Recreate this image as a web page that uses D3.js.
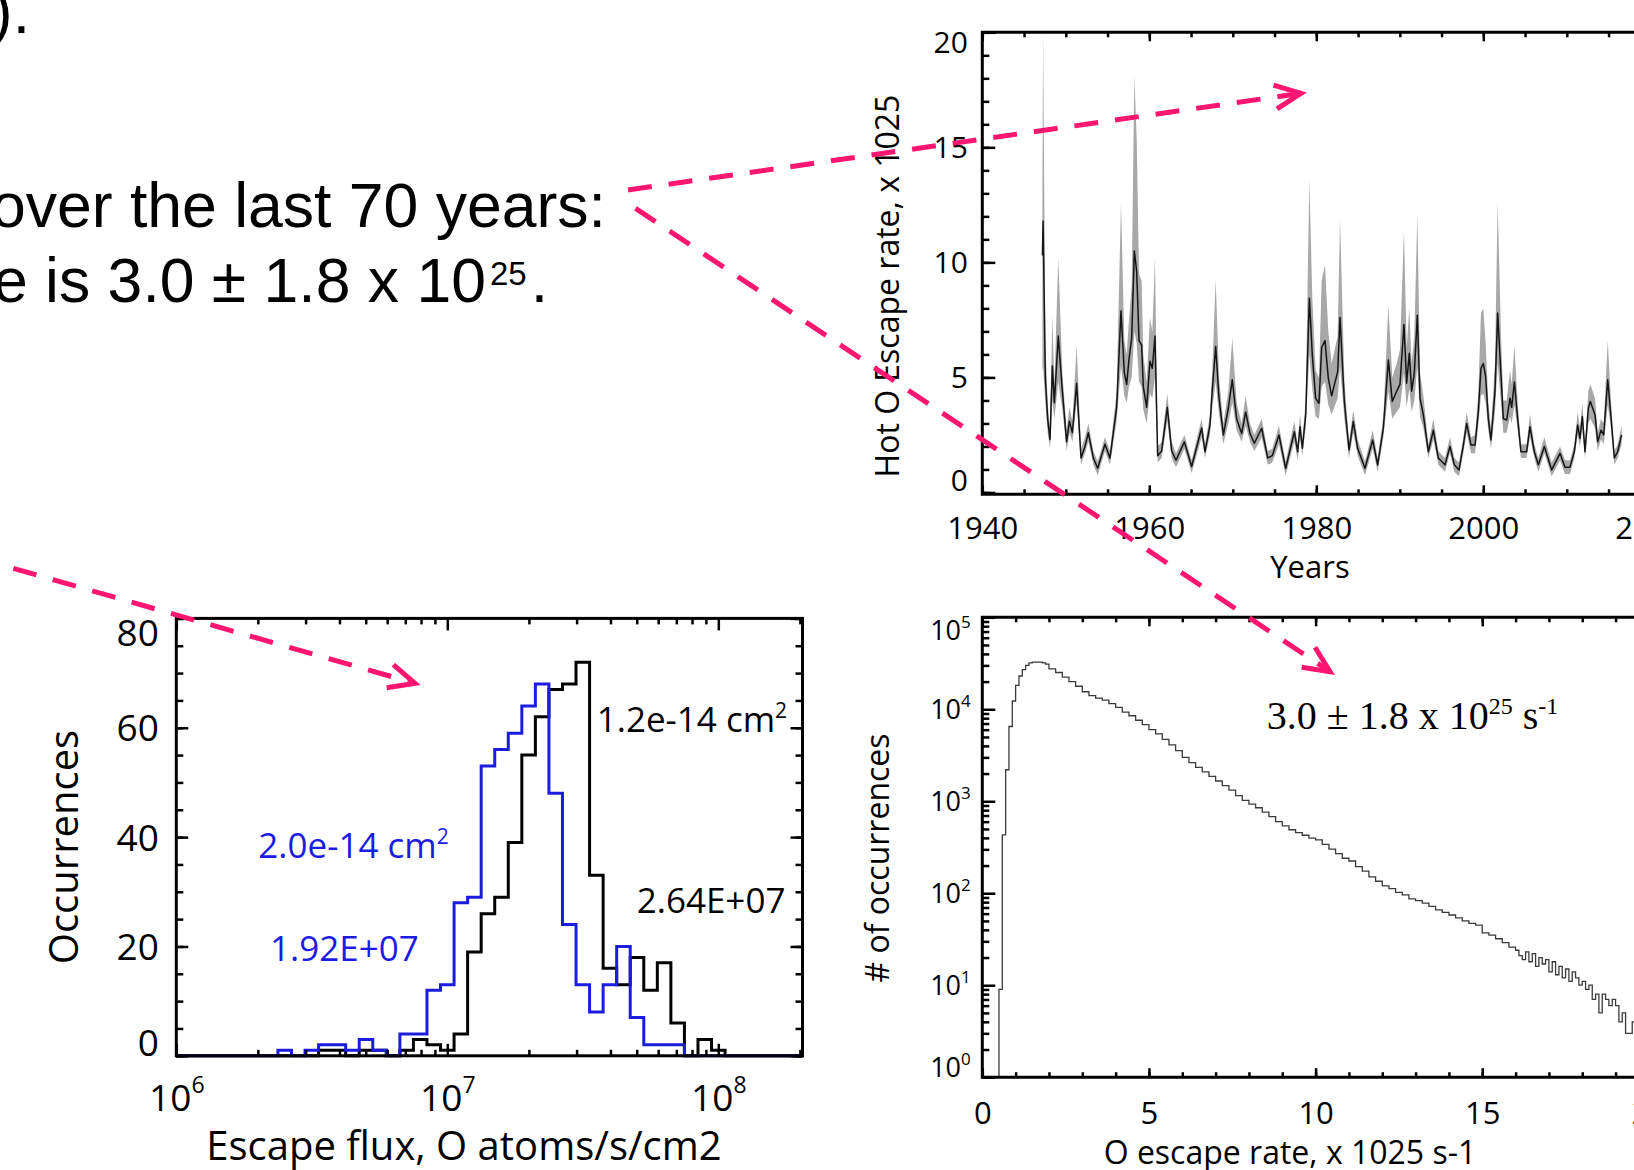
<!DOCTYPE html>
<html>
<head>
<meta charset="utf-8">
<script src="https://cdn.jsdelivr.net/npm/d3@7"></script>
<style>
  body { margin: 0; background: #fff; }
  svg { display: block; }
</style>
</head>
<body>
<script>
// ---------- data ----------
// hot O escape rate over the years (x 1e25 /s): mean line and grey band
var escYear = [1947.20,1947.28,1947.55,1947.83,1948.11,1948.39,1948.63,1949.10,1949.59,1950.10,1950.43,1950.79,1951.30,1951.82,1952.30,1952.70,1953.30,1953.82,1954.69,1955.29,
  1956.09,1956.61,1957.01,1957.29,1957.57,1957.89,1958.21,1958.49,1958.77,1959.08,1959.28,1959.68,1960.08,1960.36,1960.68,1961.00,1961.48,1962.16,1962.68,1963.20,
  1964.20,1965.07,1966.27,1966.67,1967.27,1967.55,1967.95,1968.35,1968.87,1969.46,1969.94,1970.46,1971.06,1971.54,1972.06,1972.58,1973.46,1974.18,1974.73,1975.53,
  1976.33,1977.37,1977.77,1978.05,1978.33,1978.73,1979.17,1979.52,1979.92,1980.32,1980.64,1981.04,1981.44,1981.84,1982.56,1982.84,1983.36,1983.92,1984.43,1984.95,
  1985.83,1986.75,1987.35,1988.03,1988.63,1989.10,1989.62,1990.02,1990.50,1990.82,1991.14,1991.42,1991.74,1992.10,1992.42,1992.82,1993.42,1994.02,1994.61,1995.41,
  1996.01,1996.53,1997.09,1997.61,1998.01,1998.53,1999.01,1999.40,1999.72,2000.00,2000.28,2000.60,2000.92,2001.40,2001.72,2002.12,2002.40,2002.80,2003.20,2003.40,
  2003.72,2004.12,2004.51,2005.19,2005.59,2006.11,2006.59,2007.31,2008.19,2009.19,2009.78,2010.38,2010.90,2011.30,2011.58,2011.86,2012.18,2012.58,2012.82,2013.38,
  2013.70,2014.10,2014.42,2014.90,2015.29,2015.69,2016.09,2016.57];
var escMean = [10.3,11.8,5.0,3.2,2.3,5.5,3.9,6.8,4.4,2.2,3.1,2.6,4.75,1.5,2.0,2.6,1.5,1.05,2.1,1.5,
  3.7,7.9,5.2,4.7,5.8,6.7,10.5,9.6,6.6,6.4,4.6,3.7,5.7,5.4,6.8,1.6,1.8,3.7,1.8,1.4,
  2.2,1.13,2.8,1.77,2.93,4.5,6.34,4.1,2.5,3.66,4.9,3.2,2.56,3.5,2.56,2.14,2.79,1.5,1.6,2.5,
  1.05,2.64,1.77,2.86,1.92,3.37,8.44,5.98,4.1,3.87,6.3,6.6,4.96,4.2,5.25,7.6,3.95,1.85,3.08,1.92,
  1.05,2.28,1.2,2.8,5.76,3.95,4.4,4.7,7.3,4.75,6.05,4.4,5.2,7.7,4.1,3.37,1.77,2.71,1.5,1.2,
  2.0,1.2,0.98,2.06,3.0,2.06,2.06,3.5,5.4,5.6,5.04,3.2,2.28,4.4,7.8,5.1,3.2,3.15,4.1,3.7,
  4.8,3.2,1.77,1.77,2.86,1.77,1.2,2.0,0.98,1.7,1.1,1.1,1.77,2.93,2.35,3.3,1.77,3.66,3.95,3.37,
  2.2,2.71,2.5,4.9,3.3,1.5,1.77,2.5];
var escLow = [5.2,5.5,3.9,2.6,1.9,4.0,3.2,4.8,3.6,1.8,2.6,2.2,3.9,1.2,1.7,2.2,1.2,0.75,1.8,1.2,
  3.1,5.5,4.2,3.9,4.6,5.0,7.0,6.5,4.8,4.6,3.6,3.0,4.3,4.1,5.0,1.3,1.5,3.1,1.5,1.1,
  1.9,0.85,2.4,1.5,2.5,3.7,4.8,3.4,2.1,3.0,3.9,2.7,2.2,2.9,2.2,1.8,2.4,1.2,1.3,2.1,
  0.75,2.2,1.4,2.4,1.6,2.8,6.0,4.5,3.3,3.2,4.6,4.8,3.8,3.4,4.1,5.5,3.2,1.5,2.6,1.6,
  0.75,1.9,0.9,2.4,4.4,3.2,3.5,3.7,5.2,3.7,4.5,3.5,4.0,5.5,3.3,2.8,1.5,2.3,1.2,0.9,
  1.7,0.9,0.7,1.7,2.6,1.7,1.7,2.9,4.2,4.3,3.9,2.7,1.9,3.5,5.6,3.9,2.6,2.6,3.3,3.0,
  3.8,2.7,1.5,1.5,2.4,1.5,0.9,1.7,0.7,1.4,0.8,0.8,1.5,2.5,2.0,2.8,1.5,3.0,3.2,2.8,
  1.8,2.3,2.1,3.8,2.8,1.2,1.5,2.1];
var escHigh = [13.0,20.0,6.6,3.9,2.7,7.7,4.7,10.2,5.2,2.7,3.7,3.1,6.4,1.9,2.4,3.0,1.8,1.35,2.4,1.8,
  4.4,12.6,6.6,6.0,7.5,9.0,18.1,15.4,9.5,9.2,6.0,4.8,7.6,7.0,10.2,2.0,2.2,4.3,2.2,1.7,
  2.5,1.4,3.2,2.1,3.4,5.4,9.24,5.0,3.0,4.4,6.7,3.9,3.0,4.2,3.0,2.5,3.2,1.8,1.9,2.9,
  1.35,3.1,2.1,3.4,2.3,4.0,13.6,8.5,5.3,5.0,9.2,9.9,7.0,5.6,6.8,11.9,4.9,2.2,3.6,2.3,
  1.35,2.7,1.5,3.3,8.15,5.0,5.6,6.2,11.4,6.3,8.0,5.6,6.8,12.1,5.2,4.2,2.1,3.2,1.8,1.5,
  2.4,1.5,1.3,2.4,3.5,2.4,2.5,4.3,7.8,8.0,6.5,3.9,2.8,5.6,12.6,6.8,4.0,4.0,5.3,4.7,
  6.4,3.9,2.1,2.1,3.4,2.1,1.5,2.4,1.3,2.0,1.4,1.4,2.1,3.5,2.8,3.9,2.1,4.4,4.7,4.1,
  2.6,3.2,3.0,6.6,4.0,1.8,2.1,2.9];

// escape flux histograms: log10 of bin lower edge (0.05 dex bins)
var fluxBinLog = [6.325,6.375,6.425,6.475,6.525,6.575,6.625,6.675,6.725,6.775,6.825,6.875,6.925,6.975,7.025,7.075,7.125,7.175,
  7.225,7.275,7.325,7.375,7.425,7.475,7.525,7.575,7.625,7.675,7.725,7.775,7.825,7.875,7.925,7.975,8.025];
var fluxBinTop = 8.075;
var fluxBlack = [0,0,0,0,1,1,0,1,1,0,1,3,2,1,4,19,26,29,39,55,62,67,68,72,33,16,13,18,12,17,6,0,3,1,0];
var fluxBlue = [0,1,0,1,2,2,1,3,1,0,4,4,12,13,28,29,53,56,59,64,68,48,24,13,8,13,20,7,2,2,2,0,0,0,0];

// O escape rate histogram (x 1e25 /s), bin lower edges and counts
var rateBinLo = [0.5,0.6,0.7,0.8,0.9,1.0,1.1,1.2,1.3,1.4,1.5,1.6,1.7,1.8,1.9,
  2.0,2.2,2.4,2.6,2.8,3.0,3.2,3.4,3.6,3.8,4.0,4.2,4.4,4.6,4.8,5.0,5.2,5.4,5.6,5.8,
  6.0,6.2,6.4,6.6,6.8,7.0,7.2,7.4,7.6,7.8,8.0,8.2,8.4,8.6,8.8,9.0,9.2,9.4,9.6,9.8,
  10.0,10.2,10.4,10.6,10.8,11.0,11.2,11.4,11.6,11.8,12.0,12.2,12.4,12.6,12.8,13.0,13.2,13.4,13.6,13.8,
  14.0,14.2,14.4,14.6,14.8,15.0,15.2,15.4,15.6,15.8,
  16.0,16.1,16.2,16.3,16.4,16.5,16.6,16.7,16.8,16.9,17.0,17.1,17.2,17.3,17.4,17.5,17.6,17.7,17.8,17.9,
  18.0,18.1,18.2,18.3,18.4,18.5,18.6,18.7,18.8,18.9,19.0,19.1,19.2,19.3,19.4,19.5,19.6,19.7,19.8,19.9];
var rateBinTop = 20.0;
var rateCount = [9,430,2200,6500,12300,18200,23000,27000,30000,32000,32500,32500,32500,32000,31000,
  27500,25100,22400,20000,17800,15500,14100,13200,12600,11500,10500,9300,8500,7600,6800,6000,5400,4700,4100,3550,
  3000,2630,2340,2090,1860,1660,1480,1320,1150,1020,930,850,760,680,600,540,490,457,427,398,
  380,339,302,269,240,224,195,174,151,135,120,112,102,96,87,83,78,72,66,62,
  58,54,50,47,45,37,35,32,29,26,
  24,21,19,23,18,22,16,20,17,19,14,18,13,16,12,15,11,14,12,10,
  11,9,10,7,8,5,8,7,6,7,6,4,5,3,3,4,2,3,1,2];

var w = 1634, h = 1170;
var sans = "'Open Sans', 'DejaVu Sans', sans-serif";
var pink = "#ff1670";

var svg = d3.select("body").append("svg").attr("width", w).attr("height", h);

// ticks only, inward, no labels
function ticks(g, axis, vals, size) {
  g.call(axis.tickValues(vals).tickSize(size).tickFormat(function() { return ""; }));
  g.select(".domain").remove();
  g.selectAll(".tick text").remove();
  g.selectAll(".tick line").attr("stroke", "#000").attr("stroke-width", 2.5);
}

// ---------- slide text ----------
var slide = svg.append("g").style("font-family", "'Liberation Sans', Arial, sans-serif").style("font-size", "62.5px");
slide.append("text").attr("x", 30).attr("y", 33).attr("text-anchor", "end").text(").");
slide.append("text").attr("x", -9).attr("y", 227).text("over the last 70 years:");
var l2 = slide.append("text").attr("x", -7).attr("y", 302);
l2.append("tspan").text("e is 3.0 \u00b1 1.8 x 10");
l2.append("tspan").attr("dx", 4).attr("dy", -17).style("font-size", "33px").text("25");
l2.append("tspan").attr("dx", 4).attr("dy", 17).text(".");

// ---------- top chart: escape rate vs years ----------
var xT = d3.scaleLinear().domain([1940, 2020]).range([982.3, 1650.3]);
var yT = d3.scaleLinear().domain([-0.08, 20]).range([494.3, 32.3]);
var escData = escYear.map(function(d, i) { return {yr: d, m: escMean[i], lo: escLow[i], hi: escHigh[i]}; });

svg.append("path").datum(escData)
  .attr("d", d3.area().x(function(d) { return xT(d.yr); }).y0(function(d) { return yT(d.lo); }).y1(function(d) { return yT(d.hi); }))
  .attr("fill", "#a8a8a8");
svg.append("path").datum(escData)
  .attr("d", d3.line().x(function(d) { return xT(d.yr); }).y(function(d) { return yT(d.m); }))
  .attr("fill", "none").attr("stroke", "#151515").attr("stroke-width", 1.5).attr("stroke-linejoin", "round");

ticks(svg.append("g").attr("transform", "translate(0," + yT.range()[0] + ")"), d3.axisBottom(xT), d3.range(1940, 2021, 5), -5);
ticks(svg.append("g").attr("transform", "translate(0," + yT.range()[0] + ")"), d3.axisBottom(xT), [1940, 1960, 1980, 2000, 2020], -9);
ticks(svg.append("g").attr("transform", "translate(0," + yT.range()[1] + ")"), d3.axisTop(xT), d3.range(1940, 2021, 5), -5);
ticks(svg.append("g").attr("transform", "translate(0," + yT.range()[1] + ")"), d3.axisTop(xT), [1940, 1960, 1980, 2000, 2020], -9);
ticks(svg.append("g").attr("transform", "translate(" + xT.range()[0] + ",0)"), d3.axisLeft(yT), d3.range(0, 21, 1), -7);
ticks(svg.append("g").attr("transform", "translate(" + xT.range()[0] + ",0)"), d3.axisLeft(yT), [0, 5, 10, 15, 20], -13);

svg.append("path")
  .attr("d", "M" + xT.range()[1] + "," + yT.range()[1] + "H" + xT.range()[0] + "V" + yT.range()[0] + "H" + xT.range()[1])
  .attr("fill", "none").attr("stroke", "#000").attr("stroke-width", 3);

var txl = svg.append("g").attr("transform", "translate(0," + yT.range()[0] + ")")
  .call(d3.axisBottom(xT).tickValues([1940, 1960, 1980, 2000, 2020]).tickSize(0).tickFormat(d3.format("d")));
txl.select(".domain").remove();
txl.selectAll("text").attr("y", 44.5).attr("dy", null).style("font-family", sans).style("font-size", "31px").attr("fill", "#000");

var tyl = svg.append("g").attr("transform", "translate(" + xT.range()[0] + ",0)")
  .call(d3.axisLeft(yT).tickValues([0, 5, 10, 15, 20]).tickSize(0).tickPadding(14.5));
tyl.select(".domain").remove();
tyl.selectAll("text").style("font-family", sans).style("font-size", "30px").attr("fill", "#000")
  .attr("dy", function(d) { return d === 20 ? 20.5 : (d === 0 ? -2 : 10.5); });

svg.append("text").attr("x", 1310).attr("y", 578).attr("text-anchor", "middle")
  .style("font-family", sans).style("font-size", "31px").text("Years");
svg.append("text").attr("transform", "translate(899,286) rotate(-90)").attr("text-anchor", "middle")
  .style("font-family", sans).style("font-size", "32px").text("Hot O Escape rate, x 1025");

// ---------- bottom left: escape flux histograms ----------
var xF = d3.scaleLog().domain([1e6, 2.045e8]).range([176.3, 802.5]);
var yF = d3.scaleLinear().domain([0, 80]).range([1055.8, 618.4]);

function fluxSteps(counts) {
  var pts = [[1e6, 0]];
  fluxBinLog.forEach(function(lg, i) { pts.push([Math.pow(10, lg), counts[i]]); });
  pts.push([Math.pow(10, fluxBinTop), 0]);
  pts.push([xF.domain()[1], 0]);
  return pts;
}
var fluxLine = d3.line().curve(d3.curveStepAfter)
  .x(function(d) { return xF(d[0]); }).y(function(d) { return yF(d[1]); });

svg.append("path").datum(fluxSteps(fluxBlack)).attr("d", fluxLine)
  .attr("fill", "none").attr("stroke", "#000").attr("stroke-width", 3);
svg.append("path").datum(fluxSteps(fluxBlue)).attr("d", fluxLine)
  .attr("fill", "none").attr("stroke", "#1c1ce0").attr("stroke-width", 3);

var logMinor = [];
[1e6, 1e7, 1e8].forEach(function(p) { for (var k = 2; k <= 9; k++) { if (p * k <= xF.domain()[1]) logMinor.push(p * k); } });
ticks(svg.append("g").attr("transform", "translate(0," + yF.range()[0] + ")"), d3.axisBottom(xF), logMinor, -6);
ticks(svg.append("g").attr("transform", "translate(0," + yF.range()[0] + ")"), d3.axisBottom(xF), [1e6, 1e7, 1e8], -12);
ticks(svg.append("g").attr("transform", "translate(0," + yF.range()[1] + ")"), d3.axisTop(xF), logMinor, -6);
ticks(svg.append("g").attr("transform", "translate(0," + yF.range()[1] + ")"), d3.axisTop(xF), [1e6, 1e7, 1e8], -12);
ticks(svg.append("g").attr("transform", "translate(" + xF.range()[0] + ",0)"), d3.axisLeft(yF), d3.range(0, 81, 5), -7);
ticks(svg.append("g").attr("transform", "translate(" + xF.range()[0] + ",0)"), d3.axisLeft(yF), [0, 20, 40, 60, 80], -12);
ticks(svg.append("g").attr("transform", "translate(" + xF.range()[1] + ",0)"), d3.axisRight(yF), d3.range(0, 81, 5), -7);
ticks(svg.append("g").attr("transform", "translate(" + xF.range()[1] + ",0)"), d3.axisRight(yF), [0, 20, 40, 60, 80], -12);

svg.append("rect").attr("x", xF.range()[0]).attr("y", yF.range()[1])
  .attr("width", xF.range()[1] - xF.range()[0]).attr("height", yF.range()[0] - yF.range()[1])
  .attr("fill", "none").attr("stroke", "#000").attr("stroke-width", 3);

var fxl = svg.append("g").attr("transform", "translate(0," + yF.range()[0] + ")")
  .call(d3.axisBottom(xF).tickValues([1e6, 1e7, 1e8]).tickSize(0).tickFormat(function() { return ""; }));
fxl.select(".domain").remove();
fxl.selectAll(".tick text").remove();
fxl.selectAll(".tick").append("text").attr("y", 55).attr("text-anchor", "middle")
  .style("font-family", sans).style("font-size", "37px").attr("fill", "#000")
  .each(function(d) {
    var t = d3.select(this);
    t.append("tspan").text("10");
    t.append("tspan").attr("dy", -18).style("font-size", "23px").text(Math.round(Math.log10(d)));
  });

var fyl = svg.append("g").attr("transform", "translate(" + xF.range()[0] + ",0)")
  .call(d3.axisLeft(yF).tickValues([0, 20, 40, 60, 80]).tickSize(0).tickPadding(17.5));
fyl.select(".domain").remove();
fyl.selectAll("text").style("font-family", sans).style("font-size", "37px").attr("fill", "#000")
  .attr("dy", function(d) { return d === 80 ? 27 : (d === 0 ? 0 : 13); });

svg.append("text").attr("transform", "translate(78,847) rotate(-90)").attr("text-anchor", "middle")
  .style("font-family", sans).style("font-size", "40px").text("Occurrences");
svg.append("text").attr("x", 464).attr("y", 1160).attr("text-anchor", "middle")
  .style("font-family", sans).style("font-size", "40px").text("Escape flux, O atoms/s/cm2");

function cm2Label(x, y, color, value) {
  var t = svg.append("text").attr("x", x).attr("y", y).attr("fill", color)
    .style("font-family", sans).style("font-size", "35px");
  t.append("tspan").text(value + " cm");
  t.append("tspan").attr("dy", -14).style("font-size", "21px").text("2");
}
cm2Label(596.7, 731.7, "#000", "1.2e-14");
cm2Label(258.3, 857.7, "#1c1ce0", "2.0e-14");
svg.append("text").attr("x", 636.7).attr("y", 913.3).attr("fill", "#000")
  .style("font-family", sans).style("font-size", "35px").text("2.64E+07");
svg.append("text").attr("x", 270).attr("y", 960.8).attr("fill", "#1c1ce0")
  .style("font-family", sans).style("font-size", "35px").text("1.92E+07");

// ---------- bottom right: O escape rate histogram ----------
var xR = d3.scaleLinear().domain([0, 20]).range([982.3, 1648.9]);
var yR = d3.scaleLog().domain([1, 1e5]).range([1077.2, 617.3]);

var ratePts = rateBinLo.map(function(d, i) { return [d, rateCount[i]]; });
ratePts.push([rateBinTop, rateCount[rateCount.length - 1]]);
var rateLine = d3.line().curve(d3.curveStepAfter)
  .x(function(d) { return xR(d[0]); }).y(function(d) { return yR(d[1]); });
svg.append("path").datum(ratePts)
  .attr("d", "M" + xR(rateBinLo[0]) + "," + yR.range()[0] + rateLine(ratePts).replace(/^M/, "L"))
  .attr("fill", "none").attr("stroke", "#3a3a3a").attr("stroke-width", 1.3);

var decMinor = [];
[1, 10, 100, 1000, 10000].forEach(function(p) { for (var k = 2; k <= 9; k++) decMinor.push(p * k); });
ticks(svg.append("g").attr("transform", "translate(0," + yR.range()[0] + ")"), d3.axisBottom(xR), d3.range(0, 21, 1), -5);
ticks(svg.append("g").attr("transform", "translate(0," + yR.range()[0] + ")"), d3.axisBottom(xR), [0, 5, 10, 15, 20], -9);
ticks(svg.append("g").attr("transform", "translate(0," + yR.range()[1] + ")"), d3.axisTop(xR), d3.range(0, 21, 1), -5);
ticks(svg.append("g").attr("transform", "translate(0," + yR.range()[1] + ")"), d3.axisTop(xR), [0, 5, 10, 15, 20], -9);
ticks(svg.append("g").attr("transform", "translate(" + xR.range()[0] + ",0)"), d3.axisLeft(yR), decMinor, -7);
ticks(svg.append("g").attr("transform", "translate(" + xR.range()[0] + ",0)"), d3.axisLeft(yR), [1, 10, 100, 1000, 10000, 100000], -13);

svg.append("path")
  .attr("d", "M" + xR.range()[1] + "," + yR.range()[1] + "H" + xR.range()[0] + "V" + yR.range()[0] + "H" + xR.range()[1])
  .attr("fill", "none").attr("stroke", "#000").attr("stroke-width", 3);

var rxl = svg.append("g").attr("transform", "translate(0," + yR.range()[0] + ")")
  .call(d3.axisBottom(xR).tickValues([0, 5, 10, 15, 20]).tickSize(0));
rxl.select(".domain").remove();
rxl.selectAll("text").attr("y", 46.5).attr("dy", null).style("font-family", sans).style("font-size", "31px").attr("fill", "#000");

var ryl = svg.append("g").attr("transform", "translate(" + xR.range()[0] + ",0)")
  .call(d3.axisLeft(yR).tickValues([1, 10, 100, 1000, 10000, 100000]).tickSize(0).tickFormat(function() { return ""; }));
ryl.select(".domain").remove();
ryl.selectAll(".tick text").remove();
ryl.selectAll(".tick").append("text").attr("x", -11.5).attr("text-anchor", "end")
  .attr("y", function(d) { return d === 100000 ? 22.5 : (d === 1 ? -0.5 : 9.5); })
  .style("font-family", sans).style("font-size", "27px").attr("fill", "#000")
  .each(function(d) {
    var t = d3.select(this);
    t.append("tspan").text("10");
    t.append("tspan").attr("dy", -12).style("font-size", "17px").text(Math.round(Math.log10(d)));
  });

svg.append("text").attr("transform", "translate(889,858) rotate(-90)").attr("text-anchor", "middle")
  .style("font-family", sans).style("font-size", "32px").text("# of occurrences");
svg.append("text").attr("x", 1290).attr("y", 1164).attr("text-anchor", "middle")
  .style("font-family", sans).style("font-size", "32px").text("O escape rate, x 1025 s-1");

var note = svg.append("text").attr("x", 1266.8).attr("y", 728.5)
  .style("font-family", "'Liberation Serif', 'DejaVu Serif', serif").style("font-size", "40px");
note.append("tspan").text("3.0 \u00b1 1.8 x 10");
note.append("tspan").attr("dy", -15).style("font-size", "24px").text("25");
note.append("tspan").attr("dy", 15).text(" s");
note.append("tspan").attr("dy", -15).style("font-size", "24px").text("-1");

// ---------- pink dashed arrows ----------
function arrow(x0, y0, x1, y1, offset) {
  var dx = x1 - x0, dy = y1 - y0, len = Math.sqrt(dx * dx + dy * dy);
  var ux = dx / len, uy = dy / len, bx = x1 - 26 * ux, by = y1 - 26 * uy;
  svg.append("line").attr("x1", x0).attr("y1", y0).attr("x2", x1).attr("y2", y1)
    .attr("stroke", pink).attr("stroke-width", 5).attr("stroke-dasharray", "24,17")
    .attr("stroke-dashoffset", offset || 0);
  svg.append("path")
    .attr("d", "M" + (bx - 12 * uy) + "," + (by + 12 * ux) + "L" + x1 + "," + y1 + "L" + (bx + 12 * uy) + "," + (by - 12 * ux))
    .attr("fill", "none").attr("stroke", pink).attr("stroke-width", 5);
}
arrow(628, 190, 1301, 93.3);
arrow(635.5, 208.3, 1330, 671.7);
arrow(-40, 553, 415, 683.3, 26.5);
</script>
</body>
</html>
